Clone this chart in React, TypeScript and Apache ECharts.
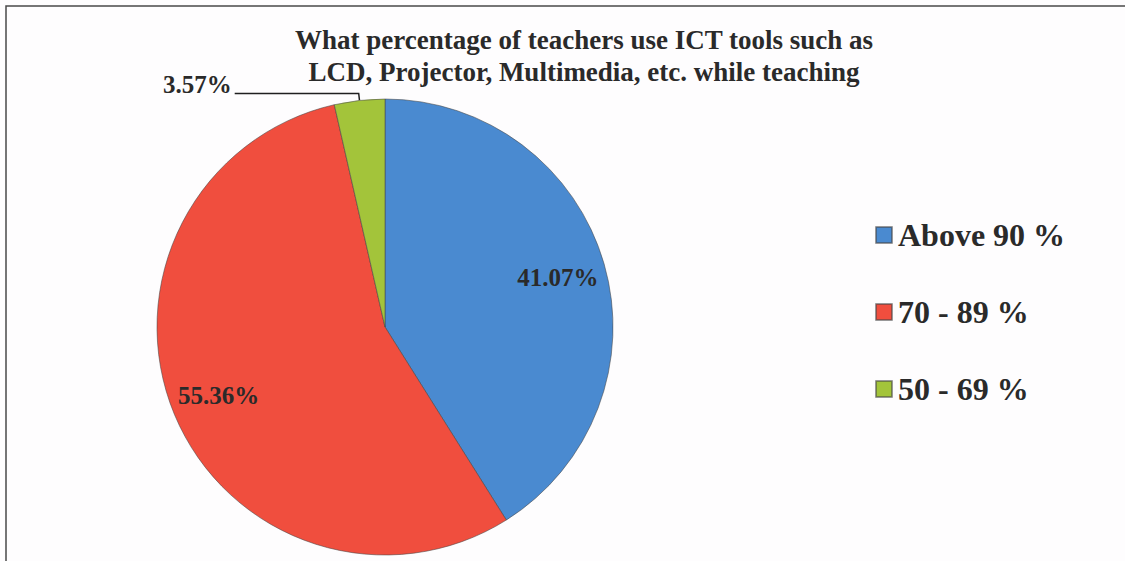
import React, { useEffect, useRef } from "react";
import * as echarts from "echarts";

const titleLines = [
  "What percentage of teachers use ICT tools such as",
  "LCD, Projector, Multimedia, etc. while teaching",
];
const categories = ["Above 90 %", "70 - 89 %", "50 - 69 %"];
const values = [41.07, 55.36, 3.57];
const colors = ["#4A8AD0", "#F04E3E", "#A3C43A"];
const insideLabel = [true, true, false];

const FONT = "'Liberation Serif', 'Times New Roman', serif";
const TEXT = "#2a2a2a";

export default function App() {
  const ref = useRef<HTMLDivElement>(null);
  useEffect(() => {
    if (!ref.current) return;
    const chart = echarts.init(ref.current, null, { renderer: "svg" });
    const mainData = categories.map((name, i) => ({
      name,
      value: values[i],
      itemStyle: { color: colors[i] },
      label: { show: !insideLabel[i] },
      labelLine: { show: !insideLabel[i] },
    }));
    const ringData = categories.map((name, i) => ({
      name,
      value: values[i],
      label: { show: insideLabel[i] },
    }));
    chart.setOption({
      animation: false,
      backgroundColor: "#fefdfe",
      title: {
        text: titleLines.join("\n"),
        left: 584,
        top: 24,
        padding: 0,
        textAlign: "center",
        textStyle: {
          fontFamily: FONT,
          fontSize: 27,
          fontWeight: "bold",
          color: TEXT,
          lineHeight: 32,
        },
      },
      legend: {
        orient: "vertical",
        left: 875,
        top: 217,
        padding: 0,
        itemGap: 41,
        itemWidth: 16,
        itemHeight: 16,
        icon: "rect",
        data: categories,
        textStyle: {
          fontFamily: FONT,
          fontSize: 32,
          fontWeight: "bold",
          color: TEXT,
          lineHeight: 36,
          padding: [0, 0, 0, 1],
        },
      },
      graphic: [
        {
          type: "rect",
          shape: { x: 6, y: 6, width: 1200, height: 700 },
          style: { fill: "none", stroke: "#4a4a4a", lineWidth: 1.5 },
          silent: true,
        },
      ],
      series: [
        {
          type: "pie",
          center: [385, 327],
          radius: [0, 228],
          startAngle: 90,
          clockwise: true,
          avoidLabelOverlap: false,
          itemStyle: { borderColor: "rgba(70,70,70,0.55)", borderWidth: 1 },
          label: {
            position: "outside",
            formatter: (p: any) => "{v|" + p.value.toFixed(2) + "%}\n{s|}",
            distanceToLabelLine: 3,
            alignTo: "none",
            rich: {
              v: {
                fontFamily: FONT,
                fontSize: 25,
                fontWeight: "bold",
                color: TEXT,
                lineHeight: 25,
              },
              s: { height: 18, lineHeight: 18, fontSize: 10 },
            },
          },
          labelLine: {
            length: 7,
            length2: 124,
            smooth: false,
            lineStyle: { color: "#1f1f1f", width: 1.5 },
          },
          data: mainData,
        },
        {
          type: "pie",
          center: [385, 327],
          radius: [126, 228],
          startAngle: 90,
          clockwise: true,
          silent: true,
          avoidLabelOverlap: false,
          itemStyle: { color: "rgba(0,0,0,0)", borderWidth: 0 },
          label: {
            position: "inside",
            formatter: (p: any) => p.value.toFixed(2) + "%",
            fontFamily: FONT,
            fontSize: 25,
            fontWeight: "bold",
            color: TEXT,
          },
          labelLine: { show: false },
          data: ringData,
        },
      ],
    });
    return () => chart.dispose();
  }, []);
  return (
    <div
      ref={ref}
      style={{ position: "fixed", left: 0, top: 0, width: 1125, height: 561 }}
    />
  );
}
